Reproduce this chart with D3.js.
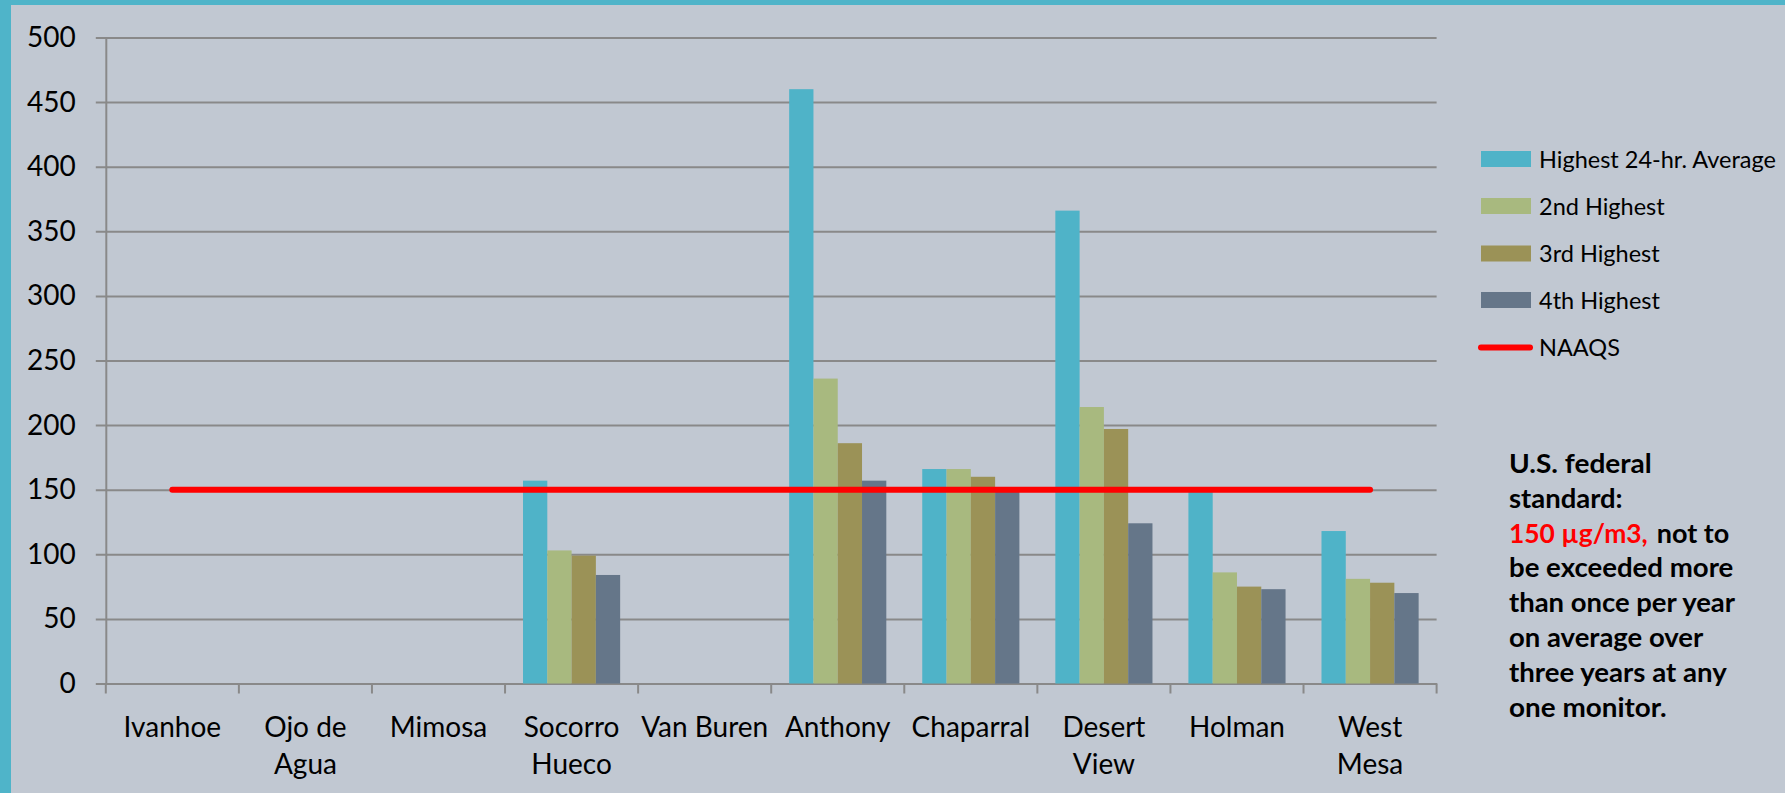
<!DOCTYPE html>
<html>
<head>
<meta charset="utf-8">
<script src="https://cdn.jsdelivr.net/npm/d3@7"></script>
<style>
  html, body { margin: 0; padding: 0; background: #c1c8d2; }
  svg { display: block; }
  text { font-family: Lato, "Open Sans", sans-serif; }
</style>
</head>
<body>
<svg id="chart" width="1785" height="793"></svg>
<script>
// ---- data ----
const categories = ["Ivanhoe", "Ojo de Agua", "Mimosa", "Socorro Hueco", "Van Buren",
                    "Anthony", "Chaparral", "Desert View", "Holman", "West Mesa"];
const categoryLabels = [["Ivanhoe"], ["Ojo de", "Agua"], ["Mimosa"], ["Socorro", "Hueco"], ["Van Buren"],
                        ["Anthony"], ["Chaparral"], ["Desert", "View"], ["Holman"], ["West", "Mesa"]];
const seriesNames = ["Highest 24-hr. Average", "2nd Highest", "3rd Highest", "4th Highest"];
const highest = [null, null, null, 157, null, 460, 166, 366, 149, 118];
const second  = [null, null, null, 103, null, 236, 166, 214, 86, 81];
const third   = [null, null, null, 99,  null, 186, 160, 197, 75, 78];
const fourth  = [null, null, null, 84,  null, 157, 149, 124, 73, 70];
const naaqs   = [150, 150, 150, 150, 150, 150, 150, 150, 150, 150];
const yTicks  = [0, 50, 100, 150, 200, 250, 300, 350, 400, 450, 500];
const noteLines = [
  [{t: "U.S. federal", red: false, w: 142.7}],
  [{t: "standard:", red: false, w: 113.7}],
  [{t: "150 \u00b5g/m3,", red: true, w: 138.7}, {t: "not to", red: false, w: 72.6, dx: 9}],
  [{t: "be exceeded more", red: false, w: 224.3}],
  [{t: "than once per year", red: false, w: 226}],
  [{t: "on average over", red: false, w: 194.3}],
  [{t: "three years at any", red: false, w: 217.7}],
  [{t: "one monitor.", red: false, w: 157.7}]
];

const seriesValues = [highest, second, third, fourth];
const colors = ["#4fb3c8", "#a8b97f", "#9b9257", "#657689"];
const gridColor = "#898989";

// ---- layout ----
const W = 1785, H = 793;
const plot = {left: 105.8, top: 37.5, right: 1436.6, bottom: 683.5};

const svg = d3.select("#chart");
svg.append("rect").attr("width", W).attr("height", H).attr("fill", "#c1c8d2");
svg.append("rect").attr("x", 0).attr("y", 0).attr("width", W).attr("height", 5).attr("fill", "#4fb4c9");
svg.append("rect").attr("x", 0).attr("y", 0).attr("width", 11).attr("height", H).attr("fill", "#4fb4c9");

const x0 = d3.scaleBand().domain(categories).range([plot.left, plot.right]).paddingInner(0).paddingOuter(0);
const x1 = d3.scaleBand().domain(seriesNames).range([0, x0.bandwidth()]).paddingInner(0).paddingOuter(0.74);
const y = d3.scaleLinear().domain([0, 500]).range([plot.bottom, plot.top]);

// y axis with gridlines
const yAxis = d3.axisLeft(y).tickValues(yTicks).tickSizeInner(10).tickSizeOuter(0).tickPadding(20);
const gy = svg.append("g").attr("transform", `translate(${plot.left},0)`).call(yAxis);
gy.select(".domain").attr("stroke", gridColor).attr("stroke-width", 2);
gy.selectAll(".tick line").attr("x1", -10).attr("x2", plot.right - plot.left)
  .attr("stroke", gridColor).attr("stroke-width", 2);
gy.selectAll(".tick text").attr("font-size", 28).attr("fill", "#000")
  .attr("font-family", "Lato, sans-serif");

// x axis: boundaries ticks + labels
const xAxis = d3.axisBottom(x0).tickSize(0).tickPadding(0).tickFormat("");
const gx = svg.append("g").attr("transform", `translate(0,${plot.bottom})`).call(xAxis);
gx.select(".domain").attr("stroke", gridColor).attr("stroke-width", 2);
const boundaries = categories.map(c => x0(c)).concat([plot.right]);
gx.selectAll(".bound").data(boundaries).enter().append("line")
  .attr("x1", d => d).attr("x2", d => d).attr("y1", 0).attr("y2", 10)
  .attr("stroke", gridColor).attr("stroke-width", 2);
gx.selectAll(".tick").each(function(d, i) {
  const g = d3.select(this);
  g.append("text").attr("text-anchor", "middle").attr("fill", "#000").attr("font-size", 28)
    .attr("font-family", "Lato, sans-serif")
    .selectAll("tspan").data(categoryLabels[i]).enter().append("tspan")
    .attr("x", 0).attr("y", (d, j) => 53.5 + j * 36.5).text(d => d);
});

// bars
const barG = svg.append("g");
seriesNames.forEach((s, si) => {
  barG.selectAll(".bar" + si)
    .data(categories.map((c, ci) => ({c, v: seriesValues[si][ci]})).filter(d => d.v != null))
    .enter().append("rect")
    .attr("x", d => x0(d.c) + x1(s))
    .attr("width", x1.bandwidth())
    .attr("y", d => y(d.v))
    .attr("height", d => y(0) - y(d.v))
    .attr("fill", colors[si]);
});

// NAAQS line
const line = d3.line().x((d, i) => x0(categories[i]) + x0.bandwidth() / 2).y(d => y(d));
svg.append("path").datum(naaqs).attr("d", line).attr("fill", "none")
  .attr("stroke", "#ff0000").attr("stroke-width", 6).attr("stroke-linecap", "round");

// legend
const legend = svg.append("g");
const legY = [159, 206, 253.5, 300];
seriesNames.forEach((s, i) => {
  legend.append("rect").attr("x", 1481).attr("y", legY[i] - 8).attr("width", 50).attr("height", 16)
    .attr("fill", colors[i]);
  legend.append("text").attr("x", 1539).attr("y", legY[i] + 8.5).attr("font-size", 23.5)
    .attr("fill", "#000").text(s);
});
legend.append("line").attr("x1", 1481).attr("x2", 1530).attr("y1", 347.5).attr("y2", 347.5)
  .attr("stroke", "#ff0000").attr("stroke-width", 6).attr("stroke-linecap", "round");
legend.append("text").attr("x", 1539).attr("y", 356).attr("font-size", 23.5).attr("fill", "#000").text("NAAQS");

// note
const noteG = svg.append("g");
noteLines.forEach((ln, i) => {
  let xPos = 1509;
  ln.forEach(p => {
    xPos += (p.dx || 0);
    noteG.append("text").attr("x", xPos).attr("y", 472.7 + i * 34.9)
      .attr("font-size", 26).attr("font-weight", "bold")
      .attr("fill", p.red ? "#ff0000" : "#000")
      .attr("textLength", p.w).attr("lengthAdjust", "spacingAndGlyphs")
      .text(p.t);
    xPos += p.w;
  });
});
</script>
</body>
</html>
